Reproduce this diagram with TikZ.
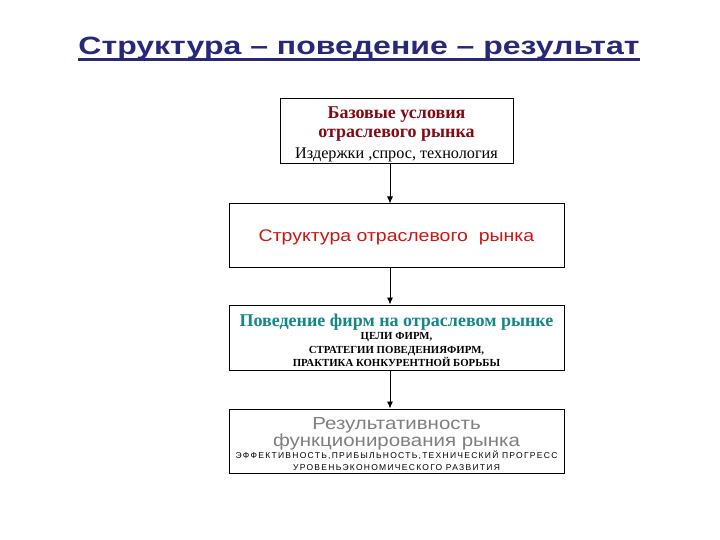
\documentclass[tikz,border=0pt]{standalone}
\usepackage{fontspec}
\setmainfont{Liberation Serif}
\setsansfont{Liberation Sans}
\newfontfamily\titulofonte[FakeStretch=1.28]{Liberation Sans}
\newfontfamily\estruturafonte[FakeStretch=1.16]{Liberation Sans}
\newfontfamily\resultadofonte[FakeStretch=1.17]{Liberation Sans}
\usetikzlibrary{calc, arrows.meta}

\definecolor{titulo}{RGB}{40,40,120}
\definecolor{vermelhoescuro}{RGB}{130,10,20}
\definecolor{vermelho}{RGB}{205,20,20}
\definecolor{verdeazul}{RGB}{20,135,135}
\definecolor{cinza}{RGB}{128,128,128}

\begin{document}
\begin{tikzpicture}[x=1pt, y=-1pt,
box_style/.style={rectangle, draw=black, line width=1pt, fill=white, inner sep=0pt},
line_style/.style={inner sep=0pt, anchor=base},
arrow_style/.style={-{Latex[length=7pt, width=6pt]}, line width=0.9pt, black},
]

	\useasboundingbox (0,0) rectangle (720,540);

	% title
	\node[line_style, font=\titulofonte\bfseries\fontsize{25}{28}\selectfont, text=titulo] (titulo) at (359,55) {Структура – поведение – результат};
	\draw[titulo, line width=2.4pt] ($(titulo.base west)+(0,4.5)$) -- ($(titulo.base east)+(0,4.5)$);

	% boxes
	\node[box_style, minimum width=233, minimum height=65] (bazovye) at (396.5,131.5) {};
	\node[box_style, minimum width=335, minimum height=63] (struktura) at (396.5,235.5) {};
	\node[box_style, minimum width=335, minimum height=65] (povedenie) at (396.5,337.5) {};
	\node[box_style, minimum width=335, minimum height=64] (rezultat) at (396.5,441) {};

	% texts
	\node[line_style, font=\rmfamily\bfseries\fontsize{18}{20}\selectfont, text=vermelhoescuro] (bazovye1) at ($(bazovye.north)+(0,20)$) {Базовые условия};
	\node[line_style, font=\rmfamily\bfseries\fontsize{18}{20}\selectfont, text=vermelhoescuro] (bazovye2) at ($(bazovye.north)+(0,39)$) {отраслевого рынка};
	\node[line_style, font=\rmfamily\fontsize{16.2}{18}\selectfont] (bazovye3) at ($(bazovye.north)+(0,60)$) {Издержки ,спрос, технология};

	\node[line_style, font=\estruturafonte\fontsize{16.8}{19}\selectfont, text=vermelho] (struktura1) at ($(struktura.north)+(0,38)$) {Структура отраслевого\ \ рынка};

	\node[line_style, font=\rmfamily\bfseries\fontsize{18}{20}\selectfont, text=verdeazul] (povedenie1) at ($(povedenie.north)+(0,22)$) {Поведение фирм на отраслевом рынке};
	\node[line_style, font=\rmfamily\bfseries\fontsize{10.8}{12}\selectfont] (povedenie2) at ($(povedenie.north)+(0,35)$) {ЦЕЛИ ФИРМ,};
	\node[line_style, font=\rmfamily\bfseries\fontsize{10.8}{12}\selectfont] (povedenie3) at ($(povedenie.north)+(0,48.5)$) {СТРАТЕГИИ ПОВЕДЕНИЯФИРМ,};
	\node[line_style, font=\rmfamily\bfseries\fontsize{10.8}{12}\selectfont] (povedenie4) at ($(povedenie.north)+(0,62)$) {ПРАКТИКА КОНКУРЕНТНОЙ БОРЬБЫ};

	\node[line_style, font=\resultadofonte\fontsize{17.5}{19}\selectfont, text=cinza] (rezultat1) at ($(rezultat.north)+(0,20.5)$) {Результативность};
	\node[line_style, font=\resultadofonte\fontsize{17.5}{19}\selectfont, text=cinza] (rezultat2) at ($(rezultat.north)+(0,38)$) {функционирования рынка};
	\node[line_style, font=\sffamily\fontsize{8.5}{10}\selectfont\addfontfeature{LetterSpace=15}] (rezultat3) at ($(rezultat.north)+(0,50)$) {ЭФФЕКТИВНОСТЬ,ПРИБЫЛЬНОСТЬ,ТЕХНИЧЕСКИЙ ПРОГРЕСС};
	\node[line_style, font=\sffamily\fontsize{8.5}{10}\selectfont\addfontfeature{LetterSpace=15}] (rezultat4) at ($(rezultat.north)+(0,61.5)$) {УРОВЕНЬЭКОНОМИЧЕСКОГО РАЗВИТИЯ};

	% arrows
	\coordinate (eixo) at (390,0);
	\draw[arrow_style] (bazovye.south -| eixo) -- (struktura.north -| eixo);
	\draw[arrow_style] (struktura.south -| eixo) -- (povedenie.north -| eixo);
	\draw[arrow_style] (povedenie.south -| eixo) -- (rezultat.north -| eixo);

\end{tikzpicture}
\end{document}
